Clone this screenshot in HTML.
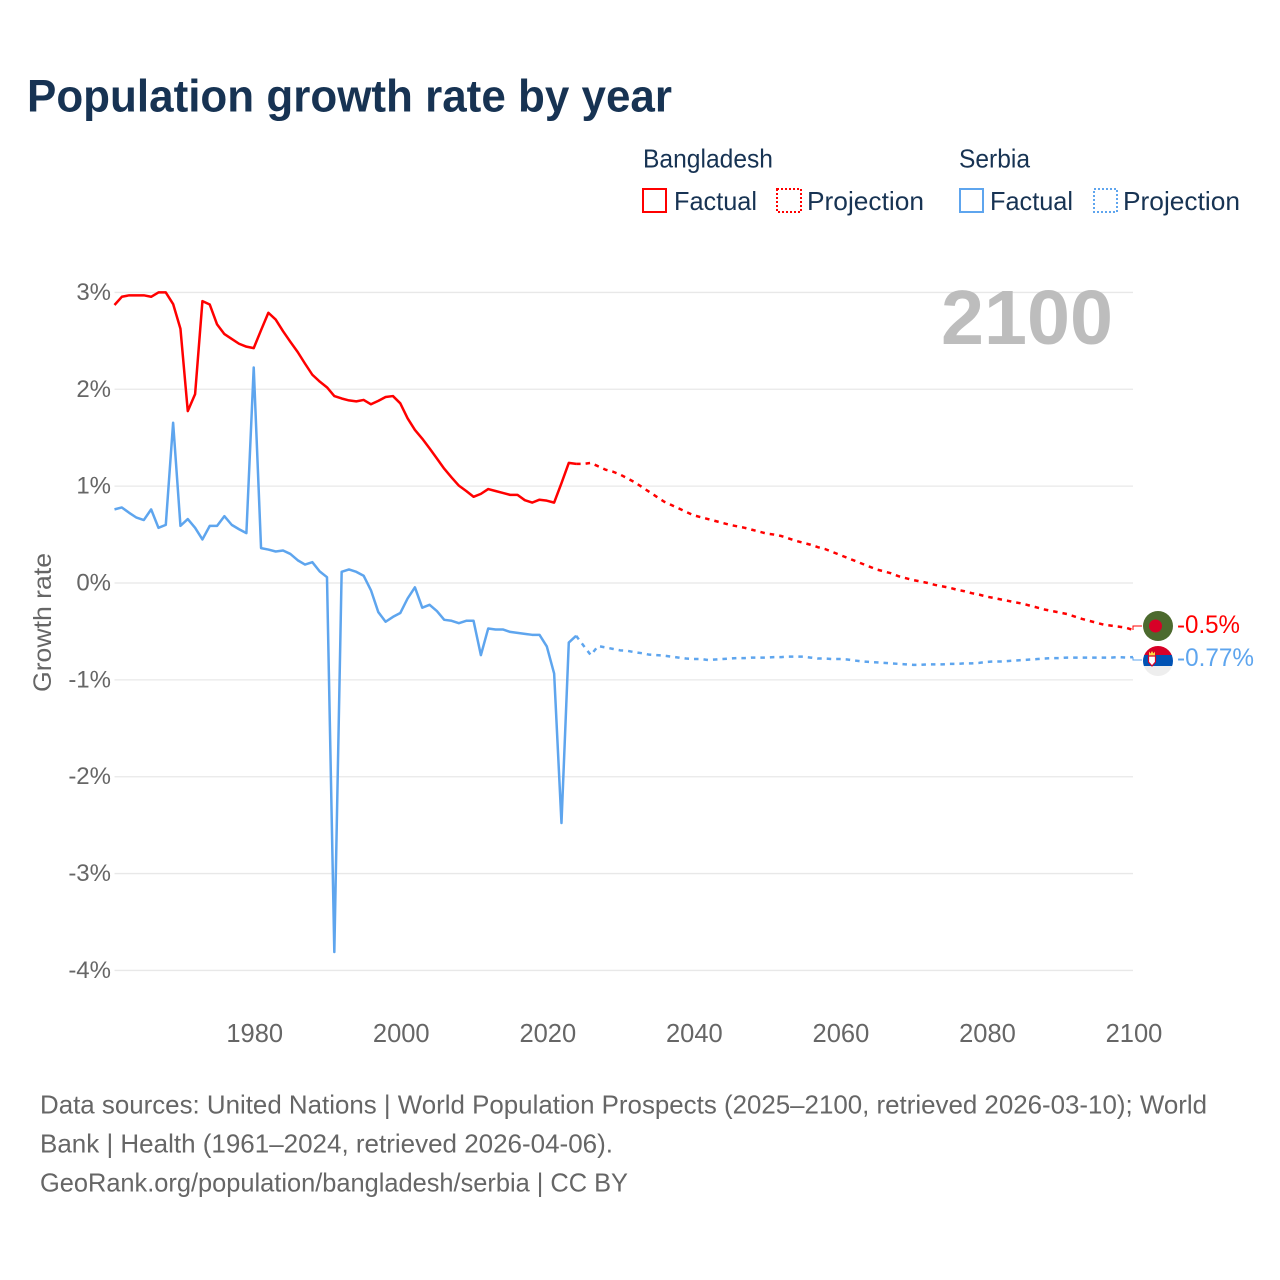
<!DOCTYPE html>
<html>
<head>
<meta charset="utf-8">
<title>Population growth rate by year</title>
<style>
html,body{margin:0;padding:0;background:#fff;}
svg{display:block;font-family:"Liberation Sans",sans-serif;}
</style>
</head>
<body>
<svg id="chart" width="1280" height="1280" viewBox="0 0 1280 1280" xmlns="http://www.w3.org/2000/svg">
  <rect x="0" y="0" width="1280" height="1280" fill="#fff"/>
  <text x="27" y="111.500" font-size="45.500" font-weight="700" fill="#173353" textLength="645" lengthAdjust="spacingAndGlyphs">Population growth rate by year</text>

  <g font-size="26" fill="#173353">
    <text x="643" y="167.500" textLength="130" lengthAdjust="spacingAndGlyphs">Bangladesh</text>
    <text x="959" y="167.500" textLength="71" lengthAdjust="spacingAndGlyphs">Serbia</text>
    <g>
      <rect x="643" y="189" width="23" height="23" fill="none" stroke="#ff0000" stroke-width="2"/>
      <text x="674" y="210" textLength="83" lengthAdjust="spacingAndGlyphs">Factual</text>
    </g>
    <g>
      <rect x="777" y="189" width="24" height="23" fill="none" stroke="#ff0000" stroke-width="2" stroke-dasharray="2 2"/>
      <text x="807" y="210" textLength="117" lengthAdjust="spacingAndGlyphs">Projection</text>
    </g>
    <g>
      <rect x="960" y="189" width="23" height="23" fill="none" stroke="#5ea5ee" stroke-width="2"/>
      <text x="990" y="210" textLength="83" lengthAdjust="spacingAndGlyphs">Factual</text>
    </g>
    <g>
      <rect x="1094" y="189" width="23" height="23" fill="none" stroke="#5ea5ee" stroke-width="2" stroke-dasharray="2 2"/>
      <text x="1123" y="210" textLength="117" lengthAdjust="spacingAndGlyphs">Projection</text>
    </g>
  </g>

  <g id="grid"></g>
  <text x="941" y="344" font-size="77" font-weight="700" fill="#bdbdbd" textLength="172" lengthAdjust="spacingAndGlyphs">2100</text>
  <g id="yticks" font-size="24" fill="#666666" text-anchor="end"></g>
  <g id="xticks" font-size="25.500" fill="#666666" text-anchor="middle"></g>
  <text transform="translate(51,692) rotate(-90)" font-size="25" fill="#666666" textLength="139" lengthAdjust="spacingAndGlyphs">Growth rate</text>
  <g id="series"></g>

  <g>
    <circle cx="1158" cy="626" r="15" fill="#4c6a2e"/>
    <circle cx="1155.500" cy="626" r="6.500" fill="#d80027"/>
  </g>
  <g>
    <clipPath id="serbia-clip"><circle cx="1158" cy="661" r="15"/></clipPath>
    <g clip-path="url(#serbia-clip)">
      <rect x="1143" y="646" width="30" height="10" fill="#d80027"/>
      <rect x="1143" y="655" width="30" height="11" fill="#0052b4"/>
      <rect x="1143" y="666" width="30" height="10" fill="#eeeeee"/>
    </g>
    <path d="M1149 651.500l1.500 2 1.500-2.500 1.500 2.500 1.500-2 0 4-6 0z" fill="#ffda44"/>
    <path d="M1148.500 656h7v6l-3.500 4-3.500-4z" fill="#fff" stroke="#d80027" stroke-width="1.200"/>
  </g>
  <text x="1177" y="633" font-size="25" fill="#ff0000" textLength="63" lengthAdjust="spacingAndGlyphs">-0.5%</text>
  <text x="1177" y="666" font-size="25" fill="#5ea5ee" textLength="77" lengthAdjust="spacingAndGlyphs">-0.77%</text>

  <g font-size="26" fill="#666666">
    <text x="40" y="1113.500" textLength="1167" lengthAdjust="spacingAndGlyphs">Data sources: United Nations | World Population Prospects (2025–2100, retrieved 2026-03-10); World</text>
    <text x="40" y="1152.500" textLength="573" lengthAdjust="spacingAndGlyphs">Bank | Health (1961–2024, retrieved 2026-04-06).</text>
    <text x="40" y="1191.500" textLength="588" lengthAdjust="spacingAndGlyphs">GeoRank.org/population/bangladesh/serbia | CC BY</text>
  </g>
</svg>
<script>
var yTickValues = [3, 2, 1, 0, -1, -2, -3, -4];
var yTickLabels = ["3%", "2%", "1%", "0%", "-1%", "-2%", "-3%", "-4%"];
var xTickYears = [1980, 2000, 2020, 2040, 2060, 2080, 2100];

var factualStartYear = 1961;
var projectionStartYear = 2024;

var bangladeshFactual = [2.87,2.955,2.97,2.97,2.97,2.955,3.0,3.0,2.88,2.625,1.775,1.95,2.91,2.875,2.67,2.57,2.52,2.47,2.44,2.425,2.61,2.79,2.72,2.60,2.49,2.385,2.265,2.15,2.08,2.02,1.93,1.905,1.885,1.875,1.89,1.845,1.88,1.92,1.93,1.855,1.70,1.58,1.49,1.39,1.285,1.18,1.09,1.005,0.95,0.89,0.92,0.97,0.95,0.93,0.91,0.91,0.855,0.83,0.86,0.85,0.83,1.03,1.24,1.23];
var bangladeshProjection = [1.23,1.23,1.24,1.205,1.17,1.15,1.12,1.08,1.04,0.99,0.94,0.89,0.84,0.805,0.77,0.735,0.70,0.68,0.66,0.64,0.62,0.60,0.585,0.57,0.55,0.53,0.51,0.50,0.485,0.46,0.435,0.415,0.395,0.37,0.35,0.32,0.29,0.26,0.23,0.20,0.17,0.14,0.12,0.10,0.07,0.05,0.03,0.015,0,-0.02,-0.035,-0.05,-0.07,-0.085,-0.105,-0.12,-0.14,-0.155,-0.17,-0.185,-0.20,-0.215,-0.235,-0.255,-0.275,-0.29,-0.305,-0.32,-0.345,-0.37,-0.39,-0.41,-0.43,-0.44,-0.45,-0.46,-0.485];
var serbiaFactual = [0.76,0.78,0.725,0.675,0.65,0.76,0.57,0.60,1.655,0.59,0.66,0.57,0.45,0.59,0.59,0.69,0.60,0.555,0.515,2.225,0.36,0.345,0.325,0.335,0.30,0.235,0.19,0.215,0.12,0.06,-3.81,0.115,0.14,0.115,0.075,-0.075,-0.30,-0.40,-0.35,-0.31,-0.16,-0.045,-0.255,-0.225,-0.29,-0.38,-0.39,-0.415,-0.39,-0.39,-0.745,-0.47,-0.48,-0.48,-0.505,-0.515,-0.525,-0.535,-0.535,-0.655,-0.935,-2.478,-0.615,-0.545];
var serbiaProjection = [-0.545,-0.645,-0.745,-0.65,-0.665,-0.68,-0.695,-0.70,-0.715,-0.725,-0.74,-0.745,-0.75,-0.76,-0.77,-0.78,-0.785,-0.785,-0.795,-0.79,-0.785,-0.78,-0.775,-0.775,-0.77,-0.77,-0.77,-0.765,-0.765,-0.76,-0.76,-0.76,-0.77,-0.78,-0.78,-0.785,-0.785,-0.79,-0.80,-0.81,-0.815,-0.82,-0.825,-0.83,-0.835,-0.84,-0.845,-0.845,-0.84,-0.84,-0.84,-0.835,-0.835,-0.83,-0.83,-0.825,-0.815,-0.81,-0.81,-0.805,-0.80,-0.795,-0.79,-0.785,-0.78,-0.775,-0.775,-0.77,-0.77,-0.77,-0.77,-0.77,-0.77,-0.77,-0.765,-0.77,-0.765];

var NS = 'http://www.w3.org/2000/svg';
function xScale(year) { return 114.5 + (year - 1961) * (1133 - 114.5) / 139; }
function yScale(v) { return 583 - v * 96.86; }
function make(tag, parent) {
  var el = document.createElementNS(NS, tag);
  parent.appendChild(el);
  return el;
}

var gridGroup = document.getElementById('grid');
var yGroup = document.getElementById('yticks');
yTickValues.forEach(function (v, i) {
  var line = make('line', gridGroup);
  
  
  line.setAttribute('x1', 114.5);
  line.setAttribute('x2', 1133);
  line.setAttribute('y1', yScale(v));
  line.setAttribute('y2', yScale(v));
  line.setAttribute('stroke', '#e8e8e8');
  line.setAttribute('stroke-width', '1.3');
  var label = make('text', yGroup);
  
  
  label.setAttribute('x', 111);
  label.setAttribute('y', yScale(v) + 7.5);
  label.textContent = yTickLabels[i];
});

var xGroup = document.getElementById('xticks');
xTickYears.forEach(function (year) {
  var label = make('text', xGroup);
  
  
  label.setAttribute('x', xScale(year) + 1);
  label.setAttribute('y', 1042);
  label.textContent = String(year);
});

function drawSeries(values, startYear, color, dashed, name) {
  var pts = values.map(function (v, i) {
    return xScale(startYear + i).toFixed(2) + ',' + yScale(v).toFixed(2);
  }).join(' ');
  var line = make('polyline', document.getElementById('series'));
  
  
  line.setAttribute('points', pts);
  line.setAttribute('fill', 'none');
  line.setAttribute('stroke', color);
  line.setAttribute('stroke-width', '2.5');
  line.setAttribute('stroke-linejoin', 'round');
  if (dashed) { line.setAttribute('stroke-dasharray', '4.500 5'); }
}
drawSeries(bangladeshFactual, factualStartYear, '#ff0000', false, 'line-bangladesh-factual');
drawSeries(bangladeshProjection, projectionStartYear, '#ff0000', true, 'line-bangladesh-projection');
drawSeries(serbiaFactual, factualStartYear, '#5ea5ee', false, 'line-serbia-factual');
drawSeries(serbiaProjection, projectionStartYear, '#5ea5ee', true, 'line-serbia-projection');

function drawLeader(lastValue, targetY, color, name) {
  var x = xScale(2100);
  var line = make('path', document.getElementById('series'));
  
  
  line.setAttribute('d', 'M' + x + ' ' + yScale(lastValue) + 'V' + targetY + 'H1142');
  line.setAttribute('fill', 'none');
  line.setAttribute('stroke', color);
  line.setAttribute('stroke-width', '1');
}
drawLeader(bangladeshProjection[bangladeshProjection.length - 1], 626, '#ff0000', 'leader-bangladesh');
drawLeader(serbiaProjection[serbiaProjection.length - 1], 660, '#5ea5ee', 'leader-serbia');
</script>
</body>
</html>
